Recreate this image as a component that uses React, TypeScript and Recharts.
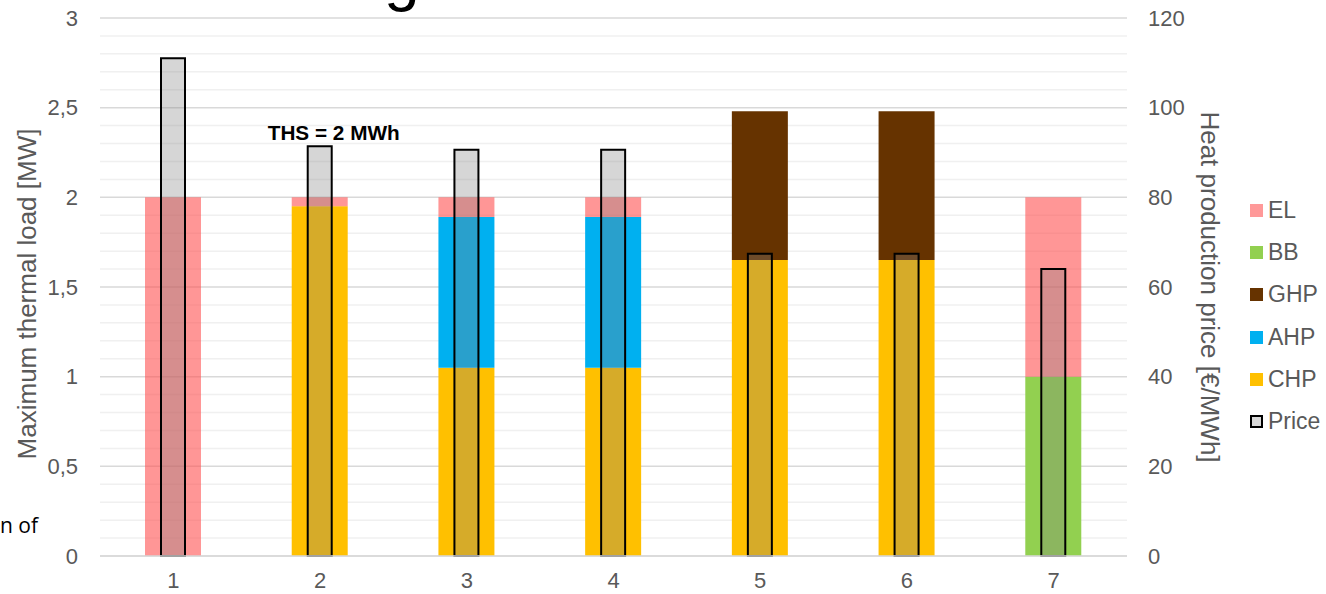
import { ComposedChart, Bar, XAxis, YAxis, CartesianGrid, LabelList } from 'recharts';

// categories (scenarios) and stacked capacities [MW]
const categories = ['1', '2', '3', '4', '5', '6', '7'];
const chp = [0, 1.95, 1.05, 1.05, 1.65, 1.65, 0];
const ahp = [0, 0, 0.84, 0.84, 0, 0, 0];
const ghp = [0, 0, 0, 0, 0.83, 0.83, 0];
const bb = [0, 0, 0, 0, 0, 0, 1];
const el = [2, 0.05, 0.11, 0.11, 0, 0, 1];
// heat production price [EUR/MWh]
const price = [111, 91.4, 90.6, 90.6, 67.4, 67.4, 64];
const notes = ['', 'THS = 2 MWh', '', '', '', '', ''];

const leftTicks = [0, 0.5, 1, 1.5, 2, 2.5, 3];
const minorTicks = [0.1, 0.2, 0.3, 0.4, 0.6, 0.7, 0.8, 0.9, 1.1, 1.2, 1.3, 1.4, 1.6, 1.7, 1.8, 1.9, 2.1, 2.2, 2.3, 2.4, 2.6, 2.7, 2.8, 2.9];
const rightTicks = [0, 20, 40, 60, 80, 100, 120];

const legendItems = [
  { name: 'EL', color: '#FF9999' },
  { name: 'BB', color: '#92D050' },
  { name: 'GHP', color: '#663300' },
  { name: 'AHP', color: '#00B0F0' },
  { name: 'CHP', color: '#FFC000' },
  { name: 'Price', color: '#D9D9D9' },
];

const FONT = "Arial, 'Liberation Sans', sans-serif";
const GREY = '#595959';

const data = categories.map((c, i) => ({
  cat: c,
  CHP: chp[i],
  AHP: ahp[i],
  GHP: ghp[i],
  BB: bb[i],
  EL: el[i],
  Price: price[i],
  note: notes[i],
}));

const tickStyle = { fill: GREY, fontSize: 22, fontFamily: FONT };

export default function App() {
  return (
    <div style={{ position: 'absolute', left: 0, top: 0, width: 1326, height: 594, background: '#fff', fontFamily: FONT }}>
      <ComposedChart width={1326} height={594} data={data} margin={{ top: 18, right: 0, bottom: 0, left: 0 }}>
        <CartesianGrid yAxisId="left" xAxisId="main" vertical={false} horizontalValues={minorTicks} stroke="#F0F0F0" strokeWidth={1.5} />
        <CartesianGrid yAxisId="left" xAxisId="main" vertical={false} horizontalValues={leftTicks} stroke="#D9D9D9" strokeWidth={1.5} />
        <XAxis
          xAxisId="main"
          dataKey="cat"
          height={38}
          tickLine={false}
          tickSize={6}
          tickMargin={10}
          axisLine={{ stroke: '#D9D9D9', strokeWidth: 1.5 }}
          tick={tickStyle}
        />
        <XAxis xAxisId="price" dataKey="cat" hide />
        <YAxis
          yAxisId="left"
          width={100}
          domain={[0, 3]}
          ticks={leftTicks}
          interval={0}
          axisLine={false}
          tickLine={false}
          tickSize={6}
          tickMargin={16}
          tick={tickStyle}
          tickFormatter={(v: number) => String(v).replace('.', ',')}
          label={{
            content: () => (
              <text x={27} y={294} transform="rotate(-90 27 294)" textAnchor="middle" dominantBaseline="central" fill={GREY} fontSize={26} fontFamily={FONT}>
                Maximum thermal load [MW]
              </text>
            ),
          }}
        />
        <YAxis
          yAxisId="right"
          orientation="right"
          width={199}
          domain={[0, 120]}
          ticks={rightTicks}
          interval={0}
          axisLine={false}
          tickLine={false}
          tickSize={6}
          tickMargin={15}
          tick={tickStyle}
          label={{
            content: () => (
              <text x={1210} y={287} transform="rotate(90 1210 287)" textAnchor="middle" dominantBaseline="central" fill={GREY} fontSize={26} fontFamily={FONT}>
                Heat production price [€/MWh]
              </text>
            ),
          }}
        />
        <Bar xAxisId="main" yAxisId="left" dataKey="CHP" stackId="a" fill="#FFC000" barSize={56} isAnimationActive={false} />
        <Bar xAxisId="main" yAxisId="left" dataKey="AHP" stackId="a" fill="#00B0F0" barSize={56} isAnimationActive={false} />
        <Bar xAxisId="main" yAxisId="left" dataKey="GHP" stackId="a" fill="#663300" barSize={56} isAnimationActive={false} />
        <Bar xAxisId="main" yAxisId="left" dataKey="BB" stackId="a" fill="#92D050" barSize={56} isAnimationActive={false} />
        <Bar xAxisId="main" yAxisId="left" dataKey="EL" stackId="a" fill="#FF5050" fillOpacity={0.6} barSize={56} isAnimationActive={false} />
        <Bar
          xAxisId="price"
          yAxisId="right"
          dataKey="Price"
          fill="#808080"
          fillOpacity={0.32}
          stroke="#000"
          strokeWidth={2}
          barSize={24}
          isAnimationActive={false}
        >
          <LabelList
            dataKey="note"
            content={(p: any) =>
              p.value ? (
                <text x={p.x + p.width / 2 + 14} y={p.y - 6} textAnchor="middle" fill="#000" fontSize={20} fontWeight="bold" fontFamily={FONT} textLength={132} lengthAdjust="spacingAndGlyphs">
                  {p.value}
                </text>
              ) : null
            }
          />
        </Bar>
      </ComposedChart>

      {/* cut-off fragments of surrounding page text */}
      <svg width={1326} height={594} style={{ position: 'absolute', left: 0, top: 0, pointerEvents: 'none' }}>
        <text x={384} y={-1} fontSize={64} fill="#000" fontFamily={FONT}>g</text>
        <text x={0} y={533} fontSize={21} fill="#000" fontFamily="'Open Sans', Lato, sans-serif">n of</text>
      </svg>

      <div style={{ position: 'absolute', left: 1250, top: 189 }}>
        {legendItems.map((it) => (
          <div key={it.name} style={{ display: 'flex', alignItems: 'center', height: 42.3 }}>
            <span
              style={{
                display: 'inline-block',
                boxSizing: 'border-box',
                width: 13,
                height: 13,
                background: it.color,
                border: it.name === 'Price' ? '2px solid #000' : 'none',
                marginRight: 5,
              }}
            />
            <span style={{ color: GREY, fontSize: 23, fontFamily: FONT }}>{it.name}</span>
          </div>
        ))}
      </div>
    </div>
  );
}
